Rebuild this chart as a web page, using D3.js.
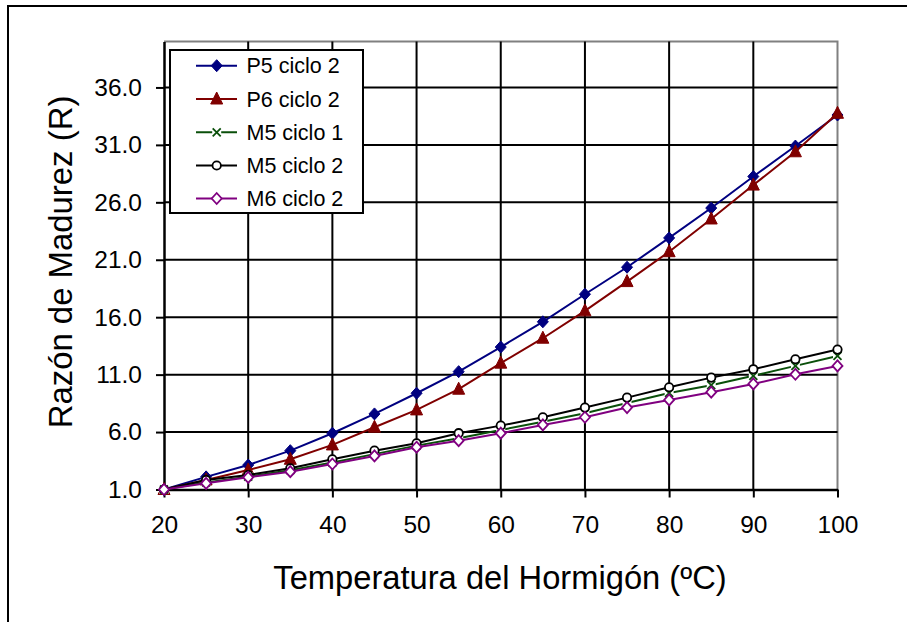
<!DOCTYPE html>
<html>
<head>
<meta charset="utf-8">
<script src="https://cdn.jsdelivr.net/npm/d3@7"></script>
<style>
  html, body { margin: 0; padding: 0; background: #fff; }
  svg { display: block; font-family: "Liberation Sans", Arial, sans-serif; }
</style>
</head>
<body>
<svg id="chart" width="907" height="622"></svg>
<script>
// ---- data ----
const temps = [20, 25, 30, 35, 40, 45, 50, 55, 60, 65, 70, 75, 80, 85, 90, 95, 100];
const p5c2 = [1.0, 2.1, 3.13, 4.38, 5.9, 7.58, 9.38, 11.26, 13.4, 15.6, 18.0, 20.35, 22.9, 25.5, 28.25, 30.9, 33.6];
const p6c2 = [1.0, 1.83, 2.7, 3.63, 4.88, 6.42, 7.93, 9.73, 12.0, 14.17, 16.55, 19.1, 21.7, 24.55, 27.5, 30.4, 33.75];
const m5c1 = [1.0, 1.62, 2.12, 2.68, 3.35, 4.08, 4.82, 5.46, 6.18, 6.9, 7.64, 8.53, 9.4, 10.08, 10.9, 11.76, 12.63];
const m5c2 = [1.0, 1.83, 2.26, 2.85, 3.63, 4.38, 5.02, 5.9, 6.56, 7.29, 8.13, 9.0, 9.9, 10.74, 11.47, 12.34, 13.18];
const m6c2 = [1.0, 1.54, 2.06, 2.55, 3.22, 3.92, 4.68, 5.25, 5.9, 6.62, 7.29, 8.13, 8.8, 9.47, 10.19, 11.03, 11.76];
const seriesNames = ["P5 ciclo 2", "P6 ciclo 2", "M5 ciclo 1", "M5 ciclo 2", "M6 ciclo 2"];
const xTicks = [20, 30, 40, 50, 60, 70, 80, 90, 100];
const yTicks = [1, 6, 11, 16, 21, 26, 31, 36];
const xTitle = "Temperatura del Hormigón (ºC)";
const yTitle = "Razón de Madurez (R)";

const series = [
  { name: seriesNames[0], values: p5c2, color: "#000080", marker: "diamondFilled" },
  { name: seriesNames[1], values: p6c2, color: "#800000", marker: "triangle" },
  { name: seriesNames[2], values: m5c1, color: "#0a4f0a", marker: "cross" },
  { name: seriesNames[3], values: m5c2, color: "#000000", marker: "circle" },
  { name: seriesNames[4], values: m6c2, color: "#800080", marker: "diamondOpen" }
];

// ---- layout ----
const svg = d3.select("#chart");
const pL = 164, pR = 837.5, pT = 41.5, pB = 489.5;
const x = d3.scaleLinear().domain([20, 100]).range([pL, pR]);
const y = d3.scaleLinear().domain([1, 40]).range([pB, pT]);

// outer frame (top & left edges visible)
svg.append("path").attr("d", "M8,622 L8,6 L907,6")
  .attr("fill", "none").attr("stroke", "#000").attr("stroke-width", 2);

// plot border (top & right grey)
svg.append("path")
  .attr("d", `M${pL},${pT} L${pR},${pT} L${pR},${pB}`)
  .attr("fill", "none").attr("stroke", "#808080").attr("stroke-width", 2);

// grid lines
const grid = svg.append("g").attr("stroke", "#000").attr("stroke-width", 2);
xTicks.filter(t => t > 20 && t < 100).forEach(t => {
  grid.append("line").attr("x1", x(t)).attr("x2", x(t)).attr("y1", pT).attr("y2", pB);
});
yTicks.filter(t => t > 1).forEach(t => {
  grid.append("line").attr("x1", pL).attr("x2", pR).attr("y1", y(t)).attr("y2", y(t));
});

// axes
const xAxis = d3.axisBottom(x).tickValues(xTicks).tickFormat(d3.format("d"))
  .tickSizeInner(8).tickSizeOuter(0).tickPadding(18);
const gx = svg.append("g").attr("transform", `translate(0,${pB})`).call(xAxis);
gx.select(".domain").attr("stroke", "#000").attr("stroke-width", 2.5);
gx.selectAll(".tick line").attr("stroke", "#000").attr("stroke-width", 2);
gx.selectAll(".tick text").attr("font-size", 24.5).attr("fill", "#000")
  .attr("font-family", "Liberation Sans, Arial, sans-serif");

const yAxis = d3.axisLeft(y).tickValues(yTicks).tickFormat(d3.format(".1f"))
  .tickSizeInner(8).tickSizeOuter(0).tickPadding(14);
const gy = svg.append("g").attr("transform", `translate(${pL},0)`).call(yAxis);
gy.select(".domain").attr("stroke", "#000").attr("stroke-width", 2.5);
gy.selectAll(".tick line").attr("stroke", "#000").attr("stroke-width", 2);
gy.selectAll(".tick text").attr("font-size", 24.5).attr("fill", "#000")
  .attr("font-family", "Liberation Sans, Arial, sans-serif");

// titles
svg.append("text").attr("x", 500).attr("y", 589).attr("text-anchor", "middle")
  .attr("font-size", 32.7).attr("fill", "#000").text(xTitle);
svg.append("text").attr("transform", "translate(72,262) rotate(-90)")
  .attr("text-anchor", "middle").attr("font-size", 32.9).attr("fill", "#000").text(yTitle);

// markers
function drawMarker(g, type, cx, cy, color) {
  if (type === "diamondFilled") {
    g.append("path").attr("d", `M${cx},${cy-6} L${cx+5.5},${cy} L${cx},${cy+6} L${cx-5.5},${cy} Z`)
      .attr("fill", color).attr("stroke", color).attr("stroke-width", 1);
  } else if (type === "triangle") {
    g.append("path").attr("d", `M${cx},${cy-7} L${cx+6},${cy+5} L${cx-6},${cy+5} Z`)
      .attr("fill", color).attr("stroke", color).attr("stroke-width", 1);
  } else if (type === "cross") {
    g.append("rect").attr("x", cx-4.5).attr("y", cy-4.5).attr("width", 9).attr("height", 9).attr("fill", "#fff");
    g.append("path").attr("d", `M${cx-4},${cy-4} L${cx+4},${cy+4} M${cx-4},${cy+4} L${cx+4},${cy-4}`)
      .attr("stroke", color).attr("stroke-width", 1.8).attr("fill", "none");
  } else if (type === "circle") {
    g.append("circle").attr("cx", cx).attr("cy", cy).attr("r", 4.2)
      .attr("fill", "#fff").attr("stroke", color).attr("stroke-width", 1.8);
  } else if (type === "diamondOpen") {
    g.append("path").attr("d", `M${cx},${cy-5.5} L${cx+5},${cy} L${cx},${cy+5.5} L${cx-5},${cy} Z`)
      .attr("fill", "#fff").attr("stroke", color).attr("stroke-width", 1.8);
  }
}

const line = d3.line().x(d => x(d[0])).y(d => y(d[1]));
series.forEach(s => {
  const g = svg.append("g");
  const pts = temps.map((t, i) => [t, s.values[i]]);
  g.append("path").datum(pts).attr("d", line)
    .attr("fill", "none").attr("stroke", s.color).attr("stroke-width", 2);
  pts.forEach(p => drawMarker(g, s.marker, x(p[0]), y(p[1]), s.color));
});

// legend
const lg = svg.append("g");
lg.append("rect").attr("x", 170).attr("y", 50).attr("width", 193).attr("height", 163)
  .attr("fill", "#fff").attr("stroke", "#000").attr("stroke-width", 2);
const rowY = [65.7, 99, 132.3, 165.5, 198.5];
series.forEach((s, i) => {
  const cy = rowY[i];
  lg.append("line").attr("x1", 196).attr("x2", 237).attr("y1", cy).attr("y2", cy)
    .attr("stroke", s.color).attr("stroke-width", 2);
  drawMarker(lg, s.marker, 216.7, cy, s.color);
  lg.append("text").attr("x", 246.5).attr("y", cy).attr("dy", "0.36em")
    .attr("font-size", 21.5).attr("fill", "#000").text(s.name);
});
</script>
</body>
</html>
